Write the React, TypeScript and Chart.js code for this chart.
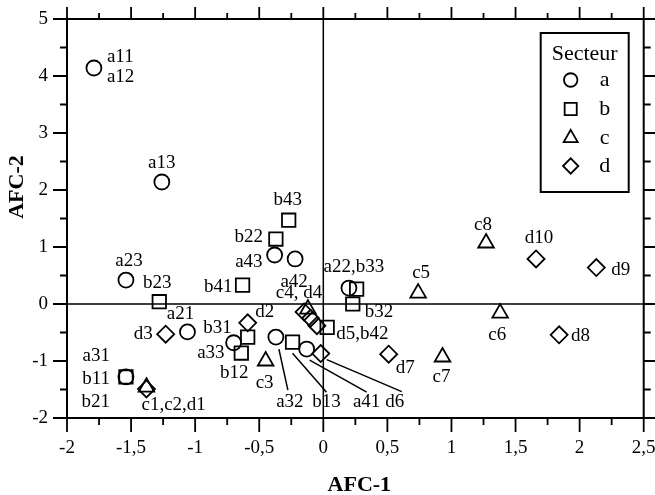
import React, { useEffect, useRef } from 'react';
import { Chart, registerables } from 'chart.js';

Chart.register(...registerables);

// ---- Data ----
const xTickValues = [-2, -1.5, -1, -0.5, 0, 0.5, 1, 1.5, 2, 2.5];
const yTickValues = [-2, -1, 0, 1, 2, 3, 4, 5];

const sectorNames = ['a', 'b', 'c', 'd'];
const legendTitle = 'Secteur';
const xTitle = 'AFC-1';
const yTitle = 'AFC-2';

// a : circles
const sectorAX = [-1.79, -1.26, -1.54, -1.06, -0.70, -1.54, -0.38, -0.22, 0.20, -0.37, -0.13];
const sectorAY = [4.14, 2.14, 0.42, -0.49, -0.68, -1.28, 0.86, 0.79, 0.28, -0.58, -0.79];
// b : squares
const sectorBX = [-0.27, -0.37, -0.63, -1.28, -0.59, -0.64, -0.24, -1.54, 0.26, 0.23, 0.03];
const sectorBY = [1.47, 1.14, 0.33, 0.04, -0.58, -0.86, -0.67, -1.28, 0.26, 0.0, -0.41];
// c : triangles
const sectorCX = [-1.38, -0.45, -0.12, 0.74, 1.38, 0.93, 1.27];
const sectorCY = [-1.46, -1.0, -0.09, 0.19, -0.16, -0.93, 1.07];
// d : diamonds
const sectorDX = [-1.38, -0.59, -1.23, -0.15, -0.10, -0.05, -0.02, 0.51, 1.84, 2.13, 1.66];
const sectorDY = [-1.49, -0.33, -0.53, -0.14, -0.25, -0.38, -0.87, -0.88, -0.54, 0.64, 0.79];

// Point labels: series index, point index, text lines, pixel offset, alignment
type PL = { s: number; i: number; t: string[]; dx: number; dy: number; al: CanvasTextAlign; lh?: number };
const pointLabels: PL[] = [
  { s: 0, i: 0, t: ['a11', 'a12'], dx: 13, dy: -11, al: 'left', lh: 20 },
  { s: 0, i: 1, t: ['a13'], dx: 0, dy: -19, al: 'center' },
  { s: 0, i: 2, t: ['a23'], dx: 3, dy: -19, al: 'center' },
  { s: 1, i: 3, t: ['b23'], dx: -2, dy: -19, al: 'center' },
  { s: 0, i: 3, t: ['a21'], dx: -7, dy: -18, al: 'center' },
  { s: 3, i: 2, t: ['d3'], dx: -13, dy: 0, al: 'right' },
  { s: 1, i: 4, t: ['b31'], dx: -16, dy: -9, al: 'right' },
  { s: 0, i: 4, t: ['a33'], dx: -9, dy: 10, al: 'right' },
  { s: 1, i: 5, t: ['b12'], dx: -7, dy: 20, al: 'center' },
  { s: 2, i: 1, t: ['c3'], dx: -1, dy: 22, al: 'center' },
  { s: 3, i: 1, t: ['d2'], dx: 17, dy: -11, al: 'center' },
  { s: 1, i: 2, t: ['b41'], dx: -10, dy: 2, al: 'right' },
  { s: 0, i: 6, t: ['a43'], dx: -12, dy: 7, al: 'right' },
  { s: 1, i: 1, t: ['b22'], dx: -13, dy: -2, al: 'right' },
  { s: 1, i: 0, t: ['b43'], dx: -1, dy: -20, al: 'center' },
  { s: 0, i: 7, t: ['a42'], dx: -1, dy: 23, al: 'center' },
  { s: 2, i: 2, t: ['c4, d4'], dx: -9, dy: -16, al: 'center' },
  { s: 0, i: 8, t: ['a22,b33'], dx: 5, dy: -21, al: 'center' },
  { s: 1, i: 9, t: ['b32'], dx: 12, dy: 8, al: 'left' },
  { s: 1, i: 10, t: ['d5,b42'], dx: 9, dy: 7, al: 'left' },
  { s: 3, i: 7, t: ['d7'], dx: 7, dy: 14, al: 'left' },
  { s: 2, i: 5, t: ['c7'], dx: -1, dy: 20, al: 'center' },
  { s: 2, i: 3, t: ['c5'], dx: 3, dy: -20, al: 'center' },
  { s: 2, i: 4, t: ['c6'], dx: -3, dy: 22, al: 'center' },
  { s: 2, i: 6, t: ['c8'], dx: -3, dy: -18, al: 'center' },
  { s: 3, i: 10, t: ['d10'], dx: 3, dy: -21, al: 'center' },
  { s: 3, i: 9, t: ['d9'], dx: 15, dy: 2, al: 'left' },
  { s: 3, i: 8, t: ['d8'], dx: 12, dy: 1, al: 'left' },
  { s: 0, i: 5, t: ['a31', 'b11', 'b21'], dx: -16, dy: -21, al: 'right', lh: 23 },
  { s: 2, i: 0, t: ['c1,c2,d1'], dx: -5, dy: 18, al: 'left' },
];

// Leader-line labels: series, index, text, label offset, line start/end offsets
type LL = { s: number; i: number; t: string; lx: number; ly: number; a: [number, number]; b: [number, number] };
const leaderLabels: LL[] = [
  { s: 0, i: 9, t: 'a32', lx: 14, ly: 65, a: [3, 12], b: [12, 53] },
  { s: 1, i: 6, t: 'b13', lx: 34, ly: 60, a: [0, 11], b: [34, 50] },
  { s: 0, i: 10, t: 'a41', lx: 60, ly: 53, a: [3, 11], b: [60, 43] },
  { s: 3, i: 6, t: 'd6', lx: 74, ly: 48, a: [6, 6], b: [81, 38] },
];

const FONT = '"Liberation Serif", "Times New Roman", serif';

function drawShape(ctx: CanvasRenderingContext2D, style: string, x: number, y: number, r: number) {
  ctx.beginPath();
  if (style === 'circle') {
    ctx.arc(x, y, r, 0, Math.PI * 2);
  } else if (style === 'rect') {
    const s = r * Math.SQRT1_2;
    ctx.rect(x - s, y - s, 2 * s, 2 * s);
  } else if (style === 'triangle') {
    ctx.moveTo(x, y - r);
    ctx.lineTo(x + r * Math.sin(Math.PI * 2 / 3), y + r / 2);
    ctx.lineTo(x - r * Math.sin(Math.PI * 2 / 3), y + r / 2);
    ctx.closePath();
  } else {
    ctx.moveTo(x - r, y);
    ctx.lineTo(x, y - r);
    ctx.lineTo(x + r, y);
    ctx.lineTo(x, y + r);
    ctx.closePath();
  }
  ctx.stroke();
}

const overlayPlugin = {
  id: 'overlay',
  beforeDatasetsDraw(chart: any) {
    const { ctx, chartArea: ca, scales } = chart;
    const x0 = scales.x.getPixelForValue(0);
    const y0 = scales.y.getPixelForValue(0);
    ctx.save();
    ctx.strokeStyle = '#000';
    ctx.lineWidth = 1.5;
    ctx.beginPath();
    ctx.moveTo(ca.left, y0);
    ctx.lineTo(ca.right, y0);
    ctx.moveTo(x0, ca.top);
    ctx.lineTo(x0, ca.bottom);
    ctx.stroke();
    ctx.restore();
  },
  afterDraw(chart: any) {
    const { ctx, chartArea: ca, scales } = chart;
    const sx = scales.x;
    const sy = scales.y;
    ctx.save();
    ctx.strokeStyle = '#000';
    ctx.fillStyle = '#000';

    // frame
    ctx.lineWidth = 2;
    ctx.strokeRect(ca.left, ca.top, ca.right - ca.left, ca.bottom - ca.top);

    // ticks on four sides
    ctx.lineWidth = 1.8;
    ctx.beginPath();
    const xMinor: number[] = [];
    for (let k = 0; k < xTickValues.length - 1; k++) xMinor.push((xTickValues[k] + xTickValues[k + 1]) / 2);
    const yMinor: number[] = [];
    for (let k = 0; k < yTickValues.length - 1; k++) yMinor.push((yTickValues[k] + yTickValues[k + 1]) / 2);
    const xt = (v: number, len: number, lenTop: number) => {
      const p = sx.getPixelForValue(v);
      ctx.moveTo(p, ca.bottom);
      ctx.lineTo(p, ca.bottom + len);
      ctx.moveTo(p, ca.top);
      ctx.lineTo(p, ca.top - lenTop);
    };
    const yt = (v: number, len: number) => {
      const p = sy.getPixelForValue(v);
      ctx.moveTo(ca.left, p);
      ctx.lineTo(ca.left - len, p);
      ctx.moveTo(ca.right, p);
      ctx.lineTo(ca.right + len, p);
    };
    xTickValues.forEach((v) => xt(v, 14, 12));
    xMinor.forEach((v) => xt(v, 7, 6));
    yTickValues.forEach((v) => yt(v, 14));
    yMinor.forEach((v) => yt(v, 7));
    ctx.stroke();

    // point labels
    ctx.font = `19px ${FONT}`;
    ctx.textBaseline = 'middle';
    const pt = (s: number, i: number) => {
      const el = chart.getDatasetMeta(s).data[i];
      return { x: el.x, y: el.y };
    };
    pointLabels.forEach((l) => {
      const p = pt(l.s, l.i);
      ctx.textAlign = l.al;
      const lh = l.lh || 20;
      l.t.forEach((line, j) => ctx.fillText(line, p.x + l.dx, p.y + l.dy + j * lh));
    });

    // leader lines + labels
    ctx.lineWidth = 1.5;
    ctx.textAlign = 'center';
    leaderLabels.forEach((l) => {
      const p = pt(l.s, l.i);
      ctx.beginPath();
      ctx.moveTo(p.x + l.a[0], p.y + l.a[1]);
      ctx.lineTo(p.x + l.b[0], p.y + l.b[1]);
      ctx.stroke();
      ctx.fillText(l.t, p.x + l.lx, p.y + l.ly);
    });

    // legend
    const bx = ca.right - 103;
    const by = ca.top + 14;
    const bw = 88;
    const bh = 159;
    ctx.fillStyle = '#fff';
    ctx.fillRect(bx, by, bw, bh);
    ctx.fillStyle = '#000';
    ctx.lineWidth = 2;
    ctx.strokeRect(bx, by, bw, bh);
    ctx.font = `22px ${FONT}`;
    ctx.textAlign = 'center';
    ctx.fillText(legendTitle, bx + bw / 2, by + 21);
    const rows = [47, 76, 105, 133];
    chart.data.datasets.forEach((ds: any, k: number) => {
      ctx.lineWidth = 1.8;
      drawShape(ctx, ds.pointStyle, bx + 30, by + rows[k], ds.pointRadius * 0.9);
      ctx.fillText(ds.label, bx + 64, by + rows[k]);
    });

    // axis titles
    ctx.font = `bold 22px ${FONT}`;
    ctx.textAlign = 'center';
    ctx.fillText(xTitle, (ca.left + ca.right) / 2 + 4, ca.bottom + 67);
    ctx.save();
    ctx.translate(17, 187);
    ctx.rotate(-Math.PI / 2);
    ctx.fillText(yTitle, 0, 0);
    ctx.restore();

    ctx.restore();
  },
};

const fmt = (v: any) => String(v).replace('.', ',');

export default function App() {
  const ref = useRef<HTMLCanvasElement | null>(null);
  useEffect(() => {
    if (!ref.current) return;
    const mk = (xs: number[], ys: number[]) => xs.map((x, i) => ({ x, y: ys[i] }));
    const common = {
      showLine: false,
      borderColor: '#000',
      backgroundColor: 'rgba(0,0,0,0)',
      pointBorderColor: '#000',
      pointBackgroundColor: 'rgba(0,0,0,0)',
      pointBorderWidth: 1.8,
    };
    const chart = new Chart(ref.current, {
      type: 'scatter',
      data: {
        datasets: [
          { ...common, label: sectorNames[0], data: mk(sectorAX, sectorAY), pointStyle: 'circle', pointRadius: 7.5 },
          { ...common, label: sectorNames[1], data: mk(sectorBX, sectorBY), pointStyle: 'rect', pointRadius: 9.5 },
          { ...common, label: sectorNames[2], data: mk(sectorCX, sectorCY), pointStyle: 'triangle', pointRadius: 9 },
          { ...common, label: sectorNames[3], data: mk(sectorDX, sectorDY), pointStyle: 'rectRot', pointRadius: 8.5 },
        ] as any,
      },
      options: {
        animation: false,
        responsive: true,
        maintainAspectRatio: false,
        layout: { padding: { top: 19, right: 10, left: 0, bottom: 0 } },
        plugins: { legend: { display: false }, tooltip: { enabled: false } },
        scales: {
          x: {
            type: 'linear',
            min: -2,
            max: 2.5,
            afterBuildTicks: (s: any) => { s.ticks = xTickValues.map((v) => ({ value: v })); },
            afterFit: (s: any) => { s.height = 77; s.paddingLeft = 0; s.paddingRight = 0; },
            grid: { display: false, drawTicks: false },
            border: { display: false },
            ticks: { callback: fmt, color: '#000', font: { family: FONT, size: 19 }, padding: 19, maxRotation: 0, autoSkip: false },
          },
          y: {
            type: 'linear',
            min: -2,
            max: 5,
            afterBuildTicks: (s: any) => { s.ticks = yTickValues.map((v) => ({ value: v })); },
            afterFit: (s: any) => { s.width = 67; s.paddingTop = 0; s.paddingBottom = 0; },
            grid: { display: false, drawTicks: false },
            border: { display: false },
            ticks: { callback: fmt, color: '#000', font: { family: FONT, size: 19 }, padding: 19, autoSkip: false },
          },
        },
      } as any,
      plugins: [overlayPlugin],
    });
    return () => chart.destroy();
  }, []);
  return (
    <div style={{ position: 'absolute', left: 0, top: 0, width: 655, height: 495, background: '#fff' }}>
      <canvas ref={ref} />
    </div>
  );
}
